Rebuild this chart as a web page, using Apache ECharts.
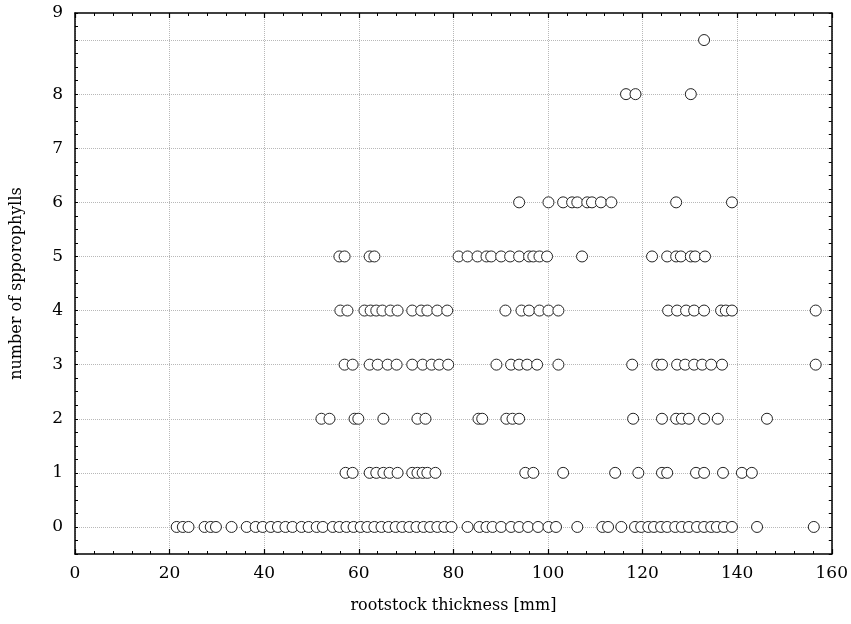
<!DOCTYPE html>
<html>
<head>
<meta charset="utf-8">
<script src="https://cdn.jsdelivr.net/npm/echarts@6/dist/echarts.min.js"></script>
<style>html,body{margin:0;padding:0;background:#fff}#c{width:851px;height:624px}</style>
</head>
<body>
<div id="c"></div>
<script>
// rootstock thickness [mm] of the points at each number of sporophylls
var row0 = [21.5, 22.8, 24, 27.4, 28.7, 29.8, 33.1, 36.3, 38.2, 39.7, 41.4, 42.9, 44.5, 46, 47.9, 49.4, 51.1, 52.4, 54.5, 55.9, 57.4, 58.9, 60.4, 61.8, 63.3, 64.8, 66.3, 67.8, 69.2, 70.7, 72.2, 73.7, 75.1, 76.6, 78.1, 79.6, 83, 85.5, 87, 88.3, 90.1, 92.2, 93.9, 95.8, 97.9, 100.1, 101.7, 106.2, 111.5, 112.7, 115.5, 118.4, 119.7, 121.2, 122.4, 123.9, 125.2, 126.9, 128.3, 129.8, 131.5, 133, 134.5, 135.7, 137.2, 138.9, 144.2, 156.2];
var row1 = [57.2, 58.7, 62.3, 63.7, 65.2, 66.5, 68.2, 71.3, 72.4, 73.5, 74.5, 76.2, 95.2, 96.9, 103.2, 114.2, 119.1, 124.1, 125.2, 131.3, 133, 137, 141, 143.1];
var row2 = [52.1, 53.8, 59.1, 59.9, 65.2, 72.4, 74.1, 85.3, 86.1, 91.2, 92.5, 93.9, 118, 124.1, 127.1, 128.3, 129.8, 133, 135.9, 146.3];
var row3 = [57, 58.7, 62.3, 64, 66.1, 68, 71.3, 73.5, 75.4, 77, 78.9, 89.1, 92.2, 93.9, 95.6, 97.7, 102.2, 117.8, 123.1, 124.1, 127.3, 129, 130.9, 132.6, 134.5, 136.8, 156.6];
var row4 = [56.1, 57.6, 61.2, 62.5, 63.7, 65, 66.7, 68.2, 71.3, 73.2, 74.5, 76.6, 78.7, 91, 94.4, 96, 98.2, 100.1, 102.2, 125.4, 127.3, 129.2, 130.9, 133, 136.6, 137.6, 138.9, 156.6];
var row5 = [55.9, 57, 62.3, 63.3, 81.1, 83, 85.1, 87, 88, 90.1, 92, 93.9, 96, 96.9, 98.2, 99.8, 107.2, 122, 125.2, 127.1, 128.1, 130.2, 131.1, 133.2];
var row6 = [93.9, 100.1, 103.2, 105.1, 106.2, 108.3, 109.3, 111.2, 113.4, 127.1, 138.9];
var row8 = [116.5, 118.5, 130.2];
var row9 = [133];
var rows = [row0, row1, row2, row3, row4, row5, row6, [], row8, row9];
var yTickLabels = ['0', '1', '2', '3', '4', '5', '6', '7', '8', '9'];
var xTickStep = 20;

var data = [];
rows.forEach(function (r, k) { r.forEach(function (x) { data.push([x, k]); }); });

var font = 'DejaVu Serif';
var clear = 'rgba(0,0,0,0)';
var grid = '#b8b8b8';
var axisLineStyle = { color: '#000', width: 1.5 };

var chart = echarts.init(document.getElementById('c'), null, { renderer: 'canvas' });
chart.setOption({
  animation: false,
  backgroundColor: '#fff',
  grid: { left: 75, top: 13, width: 758, height: 541, containLabel: false },
  xAxis: [{
    type: 'value', position: 'bottom', min: 0, max: 160, interval: xTickStep,
    name: 'rootstock thickness [mm]', nameLocation: 'middle', nameGap: 44,
    nameTextStyle: { fontFamily: font, fontSize: 16, color: '#000' },
    axisLine: { show: true, onZero: false, lineStyle: axisLineStyle },
    axisTick: { show: true, inside: true, length: 5, lineStyle: { color: '#000', width: 1.2 } },
    minorTick: { show: true, splitNumber: 5, length: 3, lineStyle: { color: '#000', width: 1 } },
    axisLabel: { fontFamily: font, fontSize: 17, color: '#000', margin: 11 },
    splitLine: { show: true, lineStyle: { color: grid, type: 'dotted', width: 1 } }
  }, {
    type: 'value', position: 'top', min: 0, max: 160, interval: xTickStep,
    axisLine: { show: true, onZero: false, lineStyle: axisLineStyle },
    axisTick: { show: true, inside: true, length: 5, lineStyle: { color: '#000', width: 1.2 } },
    minorTick: { show: true, splitNumber: 5, length: 3, lineStyle: { color: '#000', width: 1 } },
    axisLabel: { show: false },
    splitLine: { show: false }
  }],
  yAxis: [{
    type: 'value', position: 'left', min: -0.5, max: 9.5, interval: 0.25,
    name: 'number of spporophylls', nameLocation: 'middle', nameGap: 50, nameRotate: 90,
    nameTextStyle: { fontFamily: font, fontSize: 16, color: '#000' },
    axisLine: { show: true, onZero: false, lineStyle: axisLineStyle },
    axisTick: { show: true, inside: true, length: 3, lineStyle: { color: '#000', width: 1 } },
    axisLabel: {
      fontFamily: font, fontSize: 17, color: '#000', margin: 12,
      formatter: function (v) {
        if (Math.abs(v - 9.5) < 1e-9) return yTickLabels[9];
        if (Math.abs(v - Math.round(v)) < 1e-9 && v >= 0 && v <= 8) return yTickLabels[Math.round(v)];
        return '';
      }
    },
    splitLine: { show: true, lineStyle: { color: [clear, clear, grid, clear], type: 'dotted', width: 1 } }
  }, {
    type: 'value', position: 'right', min: -0.5, max: 9.5, interval: 0.25,
    axisLine: { show: true, onZero: false, lineStyle: axisLineStyle },
    axisTick: { show: true, inside: true, length: 3, lineStyle: { color: '#000', width: 1 } },
    axisLabel: { show: false },
    splitLine: { show: false }
  }],
  series: [{
    type: 'scatter',
    xAxisIndex: 0, yAxisIndex: 0,
    data: data,
    symbol: 'circle',
    symbolSize: 11,
    itemStyle: { color: '#fff', borderColor: '#222', borderWidth: 1, opacity: 1 },
    z: 5
  }]
});
</script>
</body>
</html>
